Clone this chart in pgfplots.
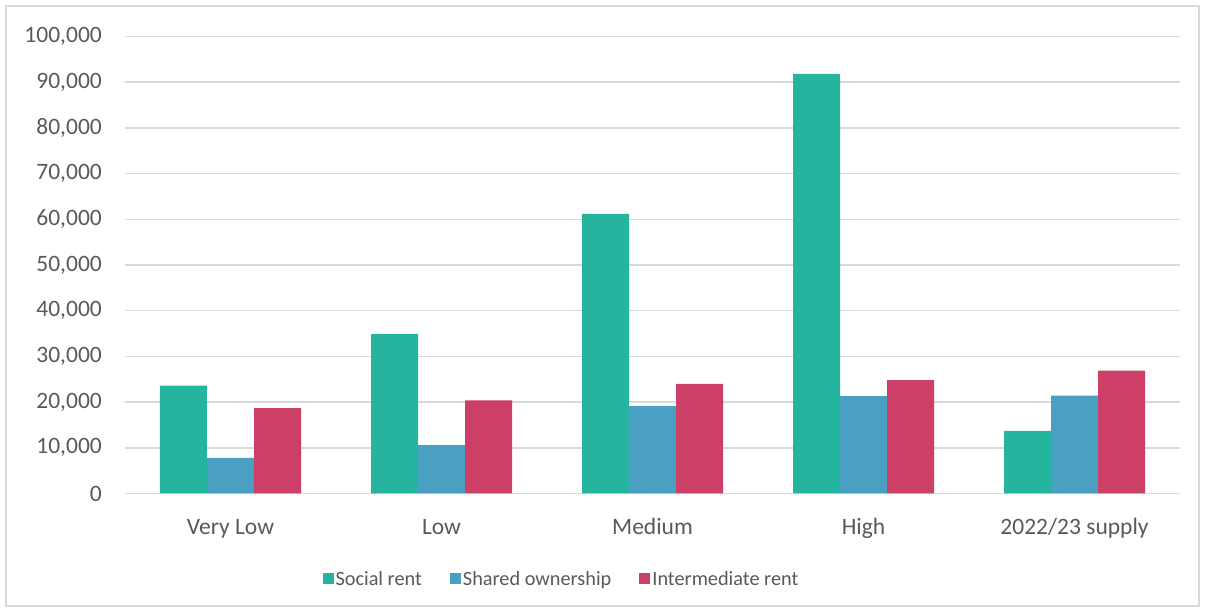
\documentclass[border=0pt]{standalone}
\usepackage{fontspec}
\setmainfont{Carlito}
\usepackage{pgfplots}
\pgfplotsset{compat=1.18}

\definecolor{social}{HTML}{25B59F}
\definecolor{shared}{HTML}{49A0C3}
\definecolor{inter}{HTML}{CC3F66}
\definecolor{txt}{HTML}{595959}
\definecolor{gridc}{HTML}{D9D9D9}

\begin{document}
\begin{tikzpicture}
\useasboundingbox (0,0) rectangle (1205pt,612pt);
\draw[gridc, line width=1.3pt] (6pt,6pt) rectangle (1199pt,606pt);
\begin{axis}[
    at={(125pt,118.5pt)}, anchor=south west,
    scale only axis,
    width=1055pt, height=457pt,
    ybar=0pt, bar width=47pt,
    xmin=-0.5, xmax=4.5,
    ymin=0, ymax=100000,
    ytick={0,10000,...,100000},
    xtick={0,1,2,3,4},
    xticklabels={Very Low, Low, Medium, High, 2022/23 supply},
    scaled y ticks=false,
    font=\fontsize{23.5}{28}\selectfont,
    ticklabel style={text=txt, font=\fontsize{23.5}{28}\selectfont},
    yticklabel style={anchor=east, inner sep=0pt, xshift=-23pt,
        /pgf/number format/fixed, /pgf/number format/1000 sep={,},
        /pgf/number format/assume math mode=true},
    xticklabel style={anchor=base, inner sep=0pt, yshift=-41pt},
    axis line style={draw=none},
    major tick length=0pt,
    ymajorgrids, grid style={gridc, line width=1.5pt},
    legend columns=3,
    legend style={draw=none, fill=none, at={(0.4137,-0.187)}, anchor=center,
        text=txt, font=\fontsize{20.3}{24}\selectfont,
        nodes={inner sep=2pt},
        /tikz/every even column/.append style={column sep=26pt}},
    legend image code/.code={\fill[#1,draw=none] (0pt,-5.5pt) rectangle (11pt,5.5pt);},
]
\addplot[fill=social, draw=none] coordinates {(0,23600) (1,34900) (2,61200) (3,91800) (4,13700)};
\addplot[fill=shared, draw=none] coordinates {(0,7800) (1,10600) (2,19100) (3,21300) (4,21400)};
\addplot[fill=inter, draw=none] coordinates {(0,18700) (1,20400) (2,24000) (3,24800) (4,26900)};
\legend{Social rent, Shared ownership, Intermediate rent}
\end{axis}
\end{tikzpicture}
\end{document}
